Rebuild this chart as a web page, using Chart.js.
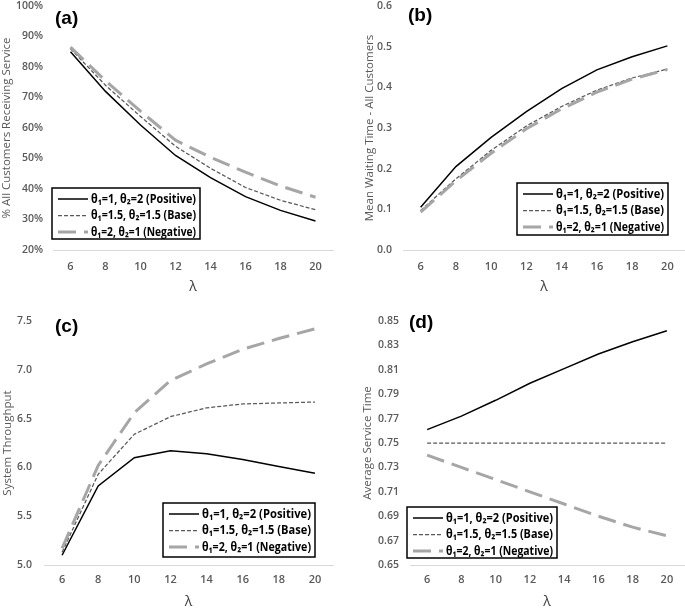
<!DOCTYPE html>
<html>
<head>
<meta charset="utf-8">
<script src="https://cdn.jsdelivr.net/npm/chart.js@4/dist/chart.umd.min.js"></script>
<style>
  body { margin: 0; background: #fff; }
  .panel { position: absolute; }
</style>
</head>
<body>
<div class="panel" style="left:0;top:0"><canvas id="chartA" width="342" height="300"></canvas></div>
<div class="panel" style="left:342px;top:0"><canvas id="chartB" width="343" height="300"></canvas></div>
<div class="panel" style="left:0;top:300px"><canvas id="chartC" width="342" height="309"></canvas></div>
<div class="panel" style="left:342px;top:300px"><canvas id="chartD" width="343" height="309"></canvas></div>
<script>
// lambda values on the x axis
const lambdas = ["6", "8", "10", "12", "14", "16", "18", "20"];
const seriesNames = ["θ₁=1, θ₂=2 (Positive)", "θ₁=1.5, θ₂=1.5 (Base)", "θ₁=2, θ₂=1 (Negative)"];

// (a) % all customers receiving service
const servedPositive = [85, 72, 61, 51, 43.7, 37.5, 33, 29.5];
const servedBase = [86, 74, 63.8, 54, 46.8, 40.5, 36.3, 33.2];
const servedNegative = [86.5, 75.5, 65.5, 56, 50.4, 45.5, 41, 37.3];

// (b) mean waiting time
const waitPositive = [0.105, 0.205, 0.277, 0.34, 0.397, 0.443, 0.475, 0.502];
const waitBase = [0.097, 0.175, 0.245, 0.305, 0.353, 0.393, 0.423, 0.445];
const waitNegative = [0.093, 0.17, 0.238, 0.298, 0.347, 0.388, 0.42, 0.444];

// (c) system throughput
const throughputPositive = [5.1, 5.81, 6.1, 6.17, 6.14, 6.08, 6.01, 5.94];
const throughputBase = [5.13, 5.93, 6.34, 6.52, 6.61, 6.65, 6.66, 6.67];
const throughputNegative = [5.17, 6.02, 6.56, 6.89, 7.06, 7.21, 7.32, 7.42];

// (d) average service time
const serviceTimePositive = [0.761, 0.772, 0.785, 0.799, 0.811, 0.823, 0.833, 0.842];
const serviceTimeBase = [0.75, 0.75, 0.75, 0.75, 0.75, 0.75, 0.75, 0.75];
const serviceTimeNegative = [0.74, 0.73, 0.72, 0.71, 0.7, 0.69, 0.681, 0.674];

const lineStyles = [
  { color: "#000000", width: 1.5, dash: [] },
  { color: "#595959", width: 1.25, dash: [4, 2] },
  { color: "#a6a6a6", width: 3, dash: [18, 8] },
];

const FONT = "'Open Sans', 'Noto Sans', sans-serif";

// draws the "(a)" label and the boxed legend
const panelDecor = {
  id: "panelDecor",
  afterDraw(chart, args, opts) {
    const ctx = chart.ctx;
    ctx.save();
    ctx.fillStyle = "#000";
    ctx.font = "bold 19px 'Liberation Sans', Arial, sans-serif";
    ctx.textBaseline = "middle";
    ctx.fillText(opts.label, opts.labelX, opts.labelY);

    const b = opts.box;
    ctx.fillStyle = "#fff";
    ctx.fillRect(b.x, b.y, b.w, b.h);
    ctx.strokeStyle = "#000";
    ctx.lineWidth = 1.5;
    ctx.strokeRect(b.x, b.y, b.w, b.h);

    ctx.font = "bold 12px " + FONT;
    seriesNames.forEach((name, i) => {
      const y = b.y + 11 + i * 16.5;
      const st = lineStyles[i];
      ctx.strokeStyle = st.color;
      ctx.lineWidth = st.width;
      ctx.setLineDash(st.dash);
      ctx.beginPath();
      ctx.moveTo(b.x + 6, y);
      ctx.lineTo(b.x + 36, y);
      ctx.stroke();
      ctx.setLineDash([]);
      ctx.fillStyle = "#000";
      ctx.fillText(name, b.x + 39, y + 0.5, b.w - 43);
    });
    ctx.restore();
  },
};

function makeChart(id, cfg) {
  const datasets = cfg.series.map((values, i) => ({
    label: seriesNames[i],
    data: values,
    borderColor: lineStyles[i].color,
    borderWidth: lineStyles[i].width,
    borderDash: lineStyles[i].dash,
    pointRadius: 0,
    tension: 0,
    fill: false,
    order: 3 - i,
  }));

  new Chart(document.getElementById(id), {
    type: "line",
    data: { labels: lambdas, datasets },
    plugins: [panelDecor],
    options: {
      responsive: false,
      animation: false,
      layout: { padding: { top: cfg.top, right: cfg.right, left: 0, bottom: 0 } },
      plugins: {
        legend: { display: false },
        tooltip: { enabled: false },
        panelDecor: cfg.decor,
      },
      scales: {
        x: {
          offset: true,
          grid: { display: false, drawTicks: false },
          border: { display: true, color: "#d9d9d9", width: 1 },
          ticks: { color: "#595959", font: { family: FONT, size: 11, weight: "600" }, padding: cfg.xTickPad, maxRotation: 0 },
          title: {
            display: true,
            text: "λ",
            color: "#404040",
            font: { family: FONT, size: 14, lineHeight: 1 },
            padding: { top: 0, bottom: cfg.xTitlePad },
          },
          afterFit: (s) => { s.height = cfg.xHeight; },
        },
        y: {
          min: cfg.min,
          max: cfg.max,
          grid: { display: false, drawTicks: false },
          border: { display: false },
          ticks: {
            stepSize: cfg.step,
            color: "#595959",
            font: { family: FONT, size: 10.5, weight: "600" },
            padding: cfg.yTickPad,
            callback: cfg.fmt,
          },
          title: {
            display: true,
            text: cfg.yTitle,
            color: "#595959",
            font: { family: FONT, size: 11.5, lineHeight: 1 },
            padding: { top: cfg.yTitlePad, bottom: 0 },
          },
          afterFit: (s) => {
            s.width = cfg.yWidth;
            // keep tick padding from pushing the plot top down
            s.paddingTop = 0;
            s.paddingBottom = 0;
          },
        },
      },
    },
  });
}

makeChart("chartA", {
  series: [servedPositive, servedBase, servedNegative],
  min: 20, max: 100, step: 10,
  fmt: (v) => v + "%",
  yTitle: "% All Customers Receiving Service",
  top: 6, right: 9, yWidth: 53, yTickPad: 10, yTitlePad: 1,
  xHeight: 50, xTickPad: 10, xTitlePad: 6,
  decor: { label: "(a)", labelX: 55, labelY: 19, box: { x: 52, y: 188, w: 148, h: 51 } },
});

makeChart("chartB", {
  series: [waitPositive, waitBase, waitNegative],
  min: 0, max: 0.6, step: 0.1,
  fmt: (v) => v.toFixed(1),
  yTitle: "Mean Waiting Time - All Customers",
  top: 6, right: 0, yWidth: 61, yTickPad: 11, yTitlePad: 22,
  xHeight: 50, xTickPad: 10, xTitlePad: 6,
  decor: { label: "(b)", labelX: 66, labelY: 16, box: { x: 175, y: 183, w: 151, h: 52 } },
});

makeChart("chartC", {
  series: [throughputPositive, throughputBase, throughputNegative],
  min: 5, max: 7.5, step: 0.5,
  fmt: (v) => v.toFixed(1),
  yTitle: "System Throughput",
  top: 21, right: 9, yWidth: 44, yTickPad: 12, yTitlePad: 2,
  xHeight: 44, xTickPad: 8, xTitlePad: 0,
  decor: { label: "(c)", labelX: 55, labelY: 27, box: { x: 163, y: 203, w: 152, h: 54 } },
});

makeChart("chartD", {
  series: [serviceTimePositive, serviceTimeBase, serviceTimeNegative],
  min: 0.65, max: 0.85, step: 0.02,
  fmt: (v) => v.toFixed(2),
  yTitle: "Average Service Time",
  top: 21, right: 1, yWidth: 68, yTickPad: 11, yTitlePad: 20,
  xHeight: 44, xTickPad: 8, xTitlePad: 0,
  decor: { label: "(d)", labelX: 67, labelY: 23, box: { x: 65, y: 207, w: 150, h: 51 } },
});
</script>
</body>
</html>
